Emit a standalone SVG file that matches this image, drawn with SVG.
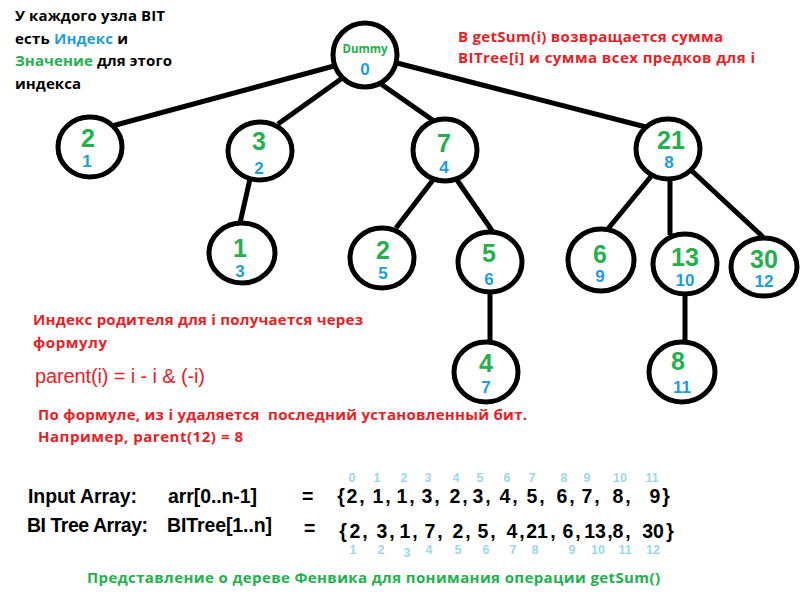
<svg xmlns="http://www.w3.org/2000/svg" width="807" height="610" viewBox="0 0 807 610">
<style>
.bg{fill:#ffffff}
.edge{stroke:#000;stroke-width:5;fill:none}
.node ellipse{fill:#fff;stroke:#000;stroke-width:5}
.val{font-family:"Liberation Sans",Arial,sans-serif;font-weight:bold;font-size:25px;fill:#22b14c;text-anchor:middle}
.idx{font-family:"Liberation Sans",Arial,sans-serif;font-weight:bold;font-size:17px;fill:#1b9de2;text-anchor:middle}
.note{font-family:"Open Sans","DejaVu Sans",sans-serif;font-weight:bold;font-size:15px}
.red{fill:#ed1c24}
.blk{fill:#000}
.blue{fill:#1b9de2}
.green{fill:#22b14c}
.arr{font-family:"Liberation Sans",Arial,sans-serif;font-weight:bold;font-size:19.5px;fill:#000}
.ai{font-family:"Liberation Sans",Arial,sans-serif;font-weight:bold;font-size:12.5px;fill:#99d9ea;text-anchor:middle}
</style>
<rect class="bg" x="0" y="0" width="807" height="610"/>

<g id="connectors">
<line class="edge" x1="334" y1="66" x2="112" y2="126"/>
<line class="edge" x1="341" y1="79" x2="278" y2="124"/>
<line class="edge" x1="381" y1="84" x2="434" y2="121"/>
<line class="edge" x1="397" y1="63" x2="646" y2="127"/>
<line class="edge" x1="250" y1="179" x2="240" y2="223"/>
<line class="edge" x1="433" y1="180" x2="396" y2="228"/>
<line class="edge" x1="457" y1="180" x2="493" y2="232"/>
<line class="edge" x1="490" y1="293" x2="490" y2="342"/>
<line class="edge" x1="653" y1="174" x2="607" y2="230"/>
<line class="edge" x1="670" y1="180" x2="670" y2="235"/>
<line class="edge" x1="692" y1="171" x2="763" y2="237"/>
<line class="edge" x1="685" y1="295" x2="685" y2="342"/>
</g>

<g id="node-dummy" class="node">
<ellipse cx="365" cy="55" rx="32" ry="32"/>
<text x="365" y="53" text-anchor="middle" font-family="'Open Sans','Liberation Sans',sans-serif" font-weight="bold" font-size="11.5px" fill="#22b14c">Dummy</text>
<text class="idx" x="365" y="75">0</text>
</g>
<g id="node-1" class="node">
<ellipse cx="90" cy="147" rx="32" ry="30"/>
<text class="val" x="88" y="147">2</text>
<text class="idx" x="87" y="167">1</text>
</g>
<g id="node-2" class="node">
<ellipse cx="260" cy="151" rx="32" ry="29"/>
<text class="val" x="259" y="150">3</text>
<text class="idx" x="259" y="174">2</text>
</g>
<g id="node-4" class="node">
<ellipse cx="445" cy="150" rx="32" ry="31"/>
<text class="val" x="444" y="152">7</text>
<text class="idx" x="444" y="173">4</text>
</g>
<g id="node-8" class="node">
<ellipse cx="668" cy="149" rx="32" ry="30"/>
<text class="val" x="671" y="149">21</text>
<text class="idx" x="669" y="168">8</text>
</g>
<g id="node-3" class="node">
<ellipse cx="242" cy="253" rx="33" ry="30"/>
<text class="val" x="240" y="257">1</text>
<text class="idx" x="240" y="277">3</text>
</g>
<g id="node-5" class="node">
<ellipse cx="382" cy="258" rx="32" ry="30"/>
<text class="val" x="383" y="259">2</text>
<text class="idx" x="383" y="279">5</text>
</g>
<g id="node-6" class="node">
<ellipse cx="490" cy="262" rx="32" ry="30"/>
<text class="val" x="489" y="262">5</text>
<text class="idx" x="489" y="285">6</text>
</g>
<g id="node-7" class="node">
<ellipse cx="486" cy="372" rx="32" ry="30"/>
<text class="val" x="486" y="372">4</text>
<text class="idx" x="486" y="393">7</text>
</g>
<g id="node-9" class="node">
<ellipse cx="601" cy="260" rx="33" ry="31"/>
<text class="val" x="600" y="263">6</text>
<text class="idx" x="600" y="282">9</text>
</g>
<g id="node-10" class="node">
<ellipse cx="685" cy="264" rx="32" ry="30"/>
<text class="val" x="685" y="266">13</text>
<text class="idx" x="685" y="286">10</text>
</g>
<g id="node-12" class="node">
<ellipse cx="764" cy="267" rx="33" ry="29"/>
<text class="val" x="764" y="268">30</text>
<text class="idx" x="764" y="287">12</text>
</g>
<g id="node-11" class="node">
<ellipse cx="682" cy="372" rx="33" ry="30"/>
<text class="val" x="678" y="370">8</text>
<text class="idx" x="682" y="393">11</text>
</g>

<g id="notes">
<text class="note blk" x="15" y="21" textLength="150">У каждого узла BIT</text>
<text class="note blk" x="15" y="44" textLength="113">есть <tspan class="blue">Индекс</tspan> и</text>
<text class="note blk" x="15" y="66" textLength="157"><tspan class="green">Значение</tspan> для этого</text>
<text class="note blk" x="15" y="89" textLength="66">индекса</text>
<text class="note red" x="458" y="42" textLength="265">В getSum(i) возвращается сумма</text>
<text class="note red" x="458" y="63" textLength="297">BITree[i] и сумма всех предков для i</text>
<text class="note red" x="33" y="325" textLength="330">Индекс родителя для i получается через</text>
<text class="note red" x="33" y="348" textLength="74">формулу</text>
<text x="35" y="383" font-family="'Liberation Sans',Arial,sans-serif" font-size="20px" fill="#ed1c24" textLength="170">parent(i) = i - i &amp; (-i)</text>
<text class="note red" x="38" y="420" textLength="489" xml:space="preserve">По формуле, из i удаляется  последний установленный бит.</text>
<text class="note red" x="38" y="442" textLength="205">Например, parent(12) = 8</text>
<text class="note green" x="87" y="583" textLength="573">Представление о дереве Фенвика для понимания операции getSum()</text>
</g>

<g id="arrays">
<text class="arr" x="28" y="503" textLength="109">Input Array:</text>
<text class="arr" x="168" y="503" textLength="89">arr[0..n-1]</text>
<text class="arr" x="302" y="503">=</text>
<text class="arr" x="27" y="532" textLength="121">BI Tree Array:</text>
<text class="arr" x="167" y="532" textLength="105">BITree[1..n]</text>
<text class="arr" x="304" y="535">=</text>
<text class="arr" y="503" text-anchor="middle"><tspan x="341">{</tspan><tspan x="352">2</tspan><tspan x="362">,</tspan><tspan x="378">1</tspan><tspan x="388">,</tspan><tspan x="402">1</tspan><tspan x="412">,</tspan><tspan x="427">3</tspan><tspan x="437">,</tspan><tspan x="455">2</tspan><tspan x="465">,</tspan><tspan x="478">3</tspan><tspan x="488">,</tspan><tspan x="505">4</tspan><tspan x="515">,</tspan><tspan x="532">5</tspan><tspan x="542">,</tspan><tspan x="562">6</tspan><tspan x="572">,</tspan><tspan x="587">7</tspan><tspan x="597">,</tspan><tspan x="618">8</tspan><tspan x="628">,</tspan><tspan x="655">9</tspan><tspan x="666">}</tspan></text>
<text class="arr" y="538" text-anchor="middle"><tspan x="343">{</tspan><tspan x="355">2</tspan><tspan x="365">,</tspan><tspan x="382">3</tspan><tspan x="392">,</tspan><tspan x="405">1</tspan><tspan x="415">,</tspan><tspan x="430">7</tspan><tspan x="440">,</tspan><tspan x="458">2</tspan><tspan x="468">,</tspan><tspan x="483">5</tspan><tspan x="493">,</tspan><tspan x="512">4</tspan><tspan x="522">,</tspan><tspan x="537">21</tspan><tspan x="553">,</tspan><tspan x="568">6</tspan><tspan x="578">,</tspan><tspan x="595">13</tspan><tspan x="610">,</tspan><tspan x="618">8</tspan><tspan x="628">,</tspan><tspan x="653">30</tspan><tspan x="670">}</tspan></text>
<text class="ai" y="482"><tspan x="352">0</tspan><tspan x="377">1</tspan><tspan x="404">2</tspan><tspan x="428">3</tspan><tspan x="456">4</tspan><tspan x="480">5</tspan><tspan x="507">6</tspan><tspan x="532">7</tspan><tspan x="564">8</tspan><tspan x="587">9</tspan><tspan x="620">10</tspan><tspan x="652">11</tspan></text>
<text class="ai" y="554"><tspan x="353">1</tspan><tspan x="381">2</tspan><tspan x="407" y="557">3</tspan><tspan x="429" y="554">4</tspan><tspan x="458">5</tspan><tspan x="486">6</tspan><tspan x="513">7</tspan><tspan x="535">8</tspan><tspan x="572">9</tspan><tspan x="598">10</tspan><tspan x="625">11</tspan><tspan x="653">12</tspan></text>
</g>
</svg>
